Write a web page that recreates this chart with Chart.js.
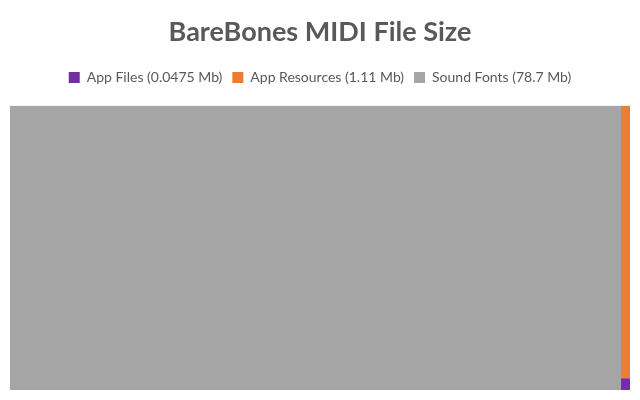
<!DOCTYPE html>
<html>
<head>
<meta charset="utf-8">
<script src="https://cdn.jsdelivr.net/npm/chart.js@4/dist/chart.umd.min.js"></script>
<style>
html,body{margin:0;padding:0;background:#fff;}
#wrap{width:640px;height:400px;}
</style>
</head>
<body>
<div id="wrap"><canvas id="c" width="640" height="400"></canvas></div>
<script>
const categories = ['App Files', 'App Resources', 'Sound Fonts'];
const sizesMb = [0.0475, 1.11, 78.7];
const labelValues = ['0.0475', '1.11', '78.7'];
const colors = ['#7030A0', '#ED7D31', '#A5A5A5'];

// simple slice layout: largest item takes a full-height column, the rest stack in the remaining column
const total = sizesMb.reduce((a, b) => a + b, 0);
const order = sizesMb.map((v, i) => i).sort((a, b) => sizesMb[b] - sizesMb[a]);
const rects = new Array(sizesMb.length);
const big = order[0];
rects[big] = {x0: 0, x1: sizesMb[big], y0: 0, y1: 1};
const restTotal = total - sizesMb[big];
let yTop = 1;
for (let k = 1; k < order.length; k++) {
  const i = order[k];
  const h = sizesMb[i] / restTotal;
  rects[i] = {x0: sizesMb[big], x1: total, y0: yTop - h, y1: yTop};
  yTop -= h;
}

const datasets = categories.map((c, i) => ({
  label: c + ' (' + labelValues[i] + ' Mb)',
  data: [{x: rects[i].x0, y: rects[i].y1}, {x: rects[i].x1, y: rects[i].y1}],
  fill: {value: rects[i].y0},
  backgroundColor: colors[i],
  borderColor: colors[i],
  borderWidth: 0,
  pointRadius: 0,
  tension: 0
}));

const legendSpacer = {
  id: 'legendSpacer',
  beforeInit(chart) {
    const origFit = chart.legend.fit;
    chart.legend.fit = function () {
      origFit.bind(chart.legend)();
      this.height += 11;
    };
  }
};

new Chart(document.getElementById('c'), {
  type: 'line',
  data: {datasets},
  plugins: [legendSpacer],
  options: {
    responsive: false,
    animation: false,
    layout: {padding: {left: 10, right: 10, bottom: 10, top: 0}},
    scales: {
      x: {type: 'linear', min: 0, max: total, display: false},
      y: {type: 'linear', min: 0, max: 1, display: false}
    },
    plugins: {
      title: {
        display: true,
        text: 'BareBones MIDI File Size',
        color: '#595959',
        font: {family: 'Lato', size: 27, weight: 'bold'},
        padding: {top: 16, bottom: 12}
      },
      legend: {
        display: true,
        labels: {
          color: '#595959',
          font: {family: 'Lato', size: 14},
          usePointStyle: true,
          pointStyle: 'rect',
          boxWidth: 11,
          boxHeight: 11,
          padding: 10
        }
      },
      tooltip: {enabled: false}
    }
  }
});
</script>
</body>
</html>
